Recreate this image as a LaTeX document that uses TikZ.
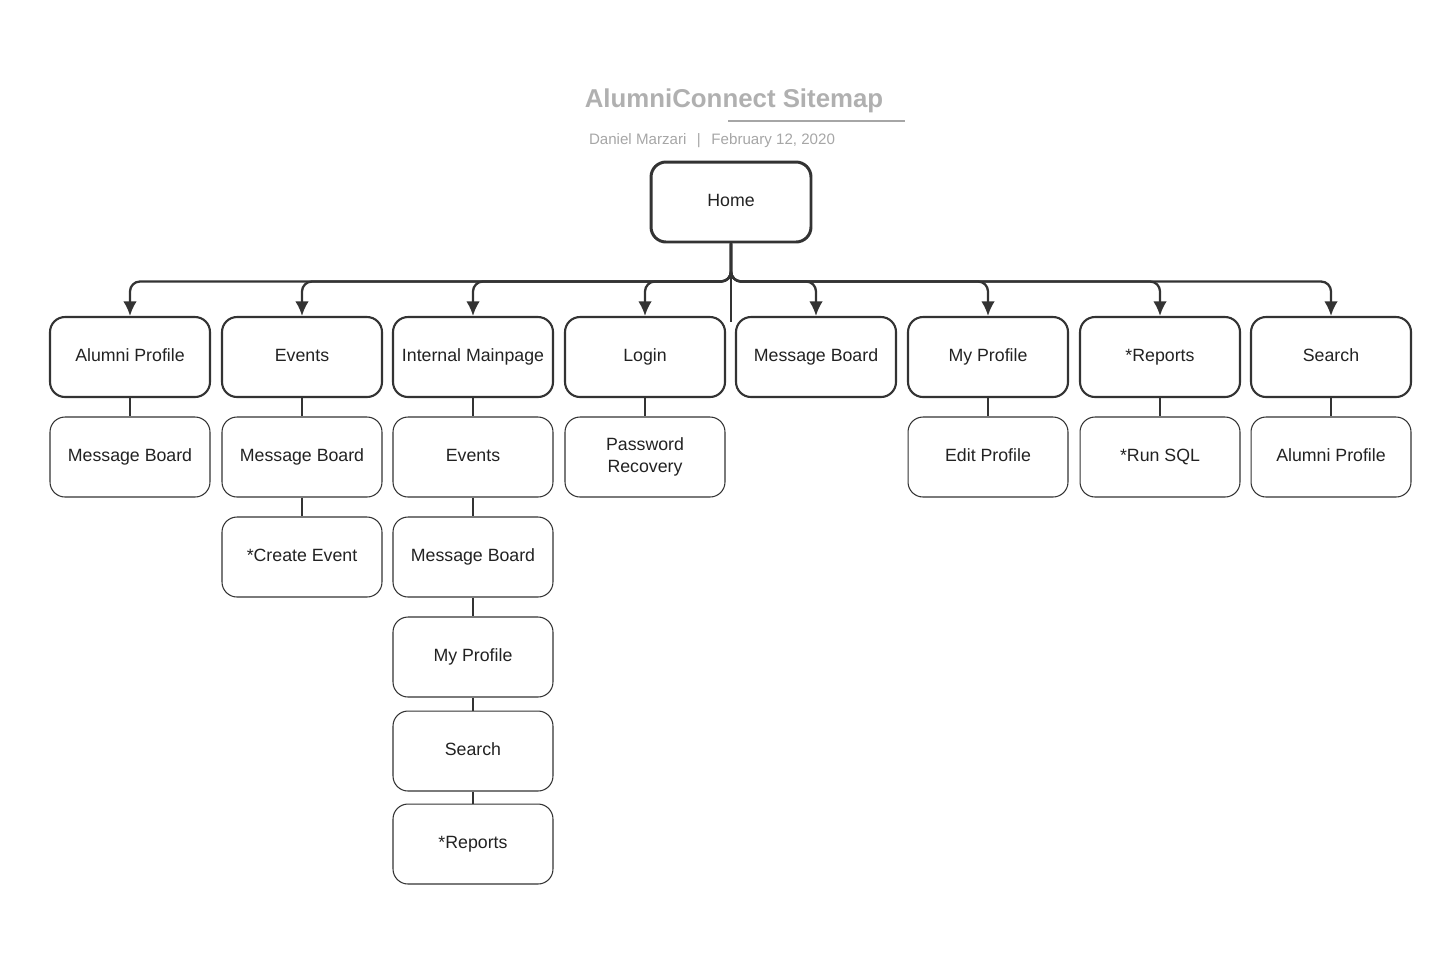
\documentclass[tikz,border=0pt]{standalone}
\usepackage{fontspec}
\setmainfont{Liberation Sans}
\usetikzlibrary{arrows.meta,positioning}
\definecolor{boxline}{HTML}{333333}
\definecolor{boxtext}{HTML}{222222}
\definecolor{titlegray}{HTML}{B0B0B0}
\definecolor{subgray}{HTML}{A6A6A6}
\tikzset{>=Latex}

\begin{document}
\begin{tikzpicture}[x=0.02cm,y=-0.02cm,
	box/.style={draw=boxline, rounded corners=0.3cm, minimum width=3.2cm, minimum height=1.6cm, inner sep=2pt, align=center, text=boxtext, text height=1.6ex, text depth=0.7ex, font=\fontsize{10.1}{12.5}\selectfont},
	homebox/.style={box, line width=1.7pt},
	topbox/.style={box, line width=1.2pt},
	subbox/.style={box, line width=0.6pt},
	link/.style={draw=boxline, line width=0.6pt},
	branch/.style={draw=boxline, line width=1.3pt, rounded corners=0.2cm, -{Latex[length=0.29cm,width=0.27cm]}}]
	\useasboundingbox (0,0) rectangle (1456,965);
	% title
	\node[text=titlegray, font=\bfseries\fontsize{14.7}{17}\selectfont] (title) at (734,101) {AlumniConnect Sitemap};
	\draw[subgray, line width=0.9pt] (728,121) -- (905,121);
	\node[text=subgray, font=\fontsize{8.6}{10}\selectfont] (byline) at (712,141) {Daniel Marzari\hspace{0.7em}|\hspace{0.7em}February 12, 2020};
	% root
	\node[homebox] (home) at (731,202) {Home};
	% first level
	\node[topbox] (alumni) at (130,357) {Alumni Profile};
	\node[topbox] (events) at (302,357) {Events};
	\node[topbox] (internal) at (473,357) {Internal Mainpage};
	\node[topbox] (login) at (645,357) {Login};
	\node[topbox] (message) at (816,357) {Message Board};
	\node[topbox] (myprofile) at (988,357) {My Profile};
	\node[topbox] (reports) at (1160,357) {*Reports};
	\node[topbox] (search) at (1331,357) {Search};
	\foreach \n in {alumni,events,internal,login,message,myprofile,reports,search}
		\draw[branch] (home.south) -- ++(0,38) -| (\n.north);
	\coordinate (gap) at (731,322);
	\draw[link] (home.south) -- (gap);
	% second level and below
	\node[subbox] (alumnimsg) at (130,457) {Message Board};
	\node[subbox] (eventsmsg) at (302,457) {Message Board};
	\node[subbox] (create) at (302,557) {*Create Event};
	\node[subbox] (intevents) at (473,457) {Events};
	\node[subbox] (intmsg) at (473,557) {Message Board};
	\node[subbox] (intprofile) at (473,657) {My Profile};
	\node[subbox] (intsearch) at (473,751) {Search};
	\node[subbox] (intreports) at (473,844) {*Reports};
	\node[subbox, text height=, text depth=] (recovery) at (645,457) {Password\\Recovery};
	\node[subbox] (edit) at (988,457) {Edit Profile};
	\node[subbox] (runsql) at (1160,457) {*Run SQL};
	\node[subbox] (searchalumni) at (1331,457) {Alumni Profile};
	\draw[link] (alumni) -- (alumnimsg);
	\draw[link] (events) -- (eventsmsg) -- (create);
	\draw[link] (internal) -- (intevents) -- (intmsg) -- (intprofile) -- (intsearch) -- (intreports);
	\draw[link] (login) -- (recovery);
	\draw[link] (myprofile) -- (edit);
	\draw[link] (reports) -- (runsql);
	\draw[link] (search) -- (searchalumni);
\end{tikzpicture}
\end{document}
